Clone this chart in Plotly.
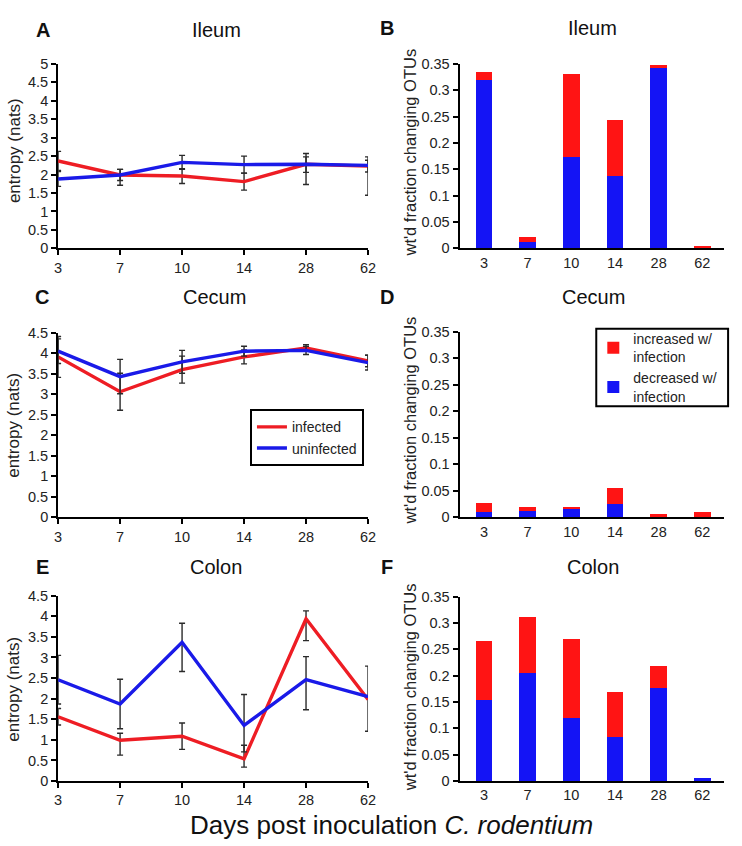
import plotly.graph_objects as go

W, H = 742, 846

days = ["3", "7", "10", "14", "28", "62"]
pos = [0, 1, 2, 3, 4, 5]

# Entropy (nats) - line panels
ileum_inf = [2.37, 1.99, 1.96, 1.81, 2.28, 2.23]
ileum_un = [1.88, 1.99, 2.33, 2.27, 2.28, 2.25]
ileum_inf_up = [0.26, 0.15, 0.20, 0.23, 0.29, 0.16]
ileum_inf_dn = [0.26, 0.15, 0.20, 0.23, 0.55, 0.79]
ileum_un_up = [0.20, 0.15, 0.19, 0.23, 0.20, 0.23]
ileum_un_dn = [0.20, 0.28, 0.19, 0.23, 0.22, 0.18]

cecum_inf = [3.91, 3.06, 3.60, 3.91, 4.13, 3.81]
cecum_un = [4.05, 3.43, 3.79, 4.05, 4.07, 3.77]
cecum_inf_err = [0.50, 0.45, 0.33, 0.17, 0.08, 0.14]
cecum_un_err = [0.30, 0.42, 0.28, 0.12, 0.10, 0.18]

colon_inf = [1.56, 0.99, 1.09, 0.54, 3.94, 1.98]
colon_un = [2.46, 1.87, 3.37, 1.35, 2.46, 2.05]
colon_inf_up = [0.20, 0.17, 0.32, 0.33, 0.19, 0.81]
colon_inf_dn = [0.20, 0.36, 0.32, 0.20, 0.53, 0.77]
colon_un_up = [0.59, 0.60, 0.46, 0.75, 0.56, 0.0]
colon_un_dn = [0.59, 0.60, 0.71, 0.64, 0.73, 0.0]

# wt'd fraction changing OTUs - stacked bars
ileum_dec = [0.319, 0.012, 0.174, 0.137, 0.343, 0.0]
ileum_inc = [0.016, 0.010, 0.157, 0.107, 0.005, 0.005]
cecum_dec = [0.009, 0.012, 0.015, 0.025, 0.001, 0.001]
cecum_inc = [0.017, 0.007, 0.004, 0.031, 0.0045, 0.009]
colon_dec = [0.154, 0.206, 0.120, 0.084, 0.177, 0.006]
colon_inc = [0.112, 0.105, 0.149, 0.086, 0.042, 0.0]

RED = "#EE1D24"
BLUE = "#1A1AE8"
BAR_RED = "#FF1414"
BAR_BLUE = "#1414F5"
ERR = "#2a2a2a"
FONT = "Liberation Sans, Arial, sans-serif"

fig = go.Figure()


def line_panel(n, inf, un, inf_up, inf_dn, un_up, un_dn, show):
    xa = "x" if n == 1 else f"x{n}"
    ya = "y" if n == 1 else f"y{n}"
    fig.add_trace(go.Scatter(
        x=pos, y=inf, mode="lines", name="infected", xaxis=xa, yaxis=ya,
        line=dict(color=RED, width=3.4), showlegend=show, legend="legend",
        error_y=dict(type="data", array=inf_up, arrayminus=inf_dn, symmetric=False,
                     color=ERR, thickness=1.4, width=3)))
    fig.add_trace(go.Scatter(
        x=pos, y=un, mode="lines", name="uninfected", xaxis=xa, yaxis=ya,
        line=dict(color=BLUE, width=3.4), showlegend=show, legend="legend",
        error_y=dict(type="data", array=un_up, arrayminus=un_dn, symmetric=False,
                     color=ERR, thickness=1.4, width=3)))


def bar_panel(n, dec, inc, show):
    xa = f"x{n}"
    ya = f"y{n}"
    fig.add_trace(go.Bar(x=pos, y=dec, name="decreased w/<br>infection", xaxis=xa, yaxis=ya,
                         marker=dict(color=BAR_BLUE, line=dict(width=0)), width=0.38,
                         showlegend=show, legend="legend2"))
    fig.add_trace(go.Bar(x=pos, y=inc, name="increased w/<br>infection", xaxis=xa, yaxis=ya,
                         marker=dict(color=BAR_RED, line=dict(width=0)), width=0.38,
                         showlegend=show, legend="legend2"))


line_panel(1, ileum_inf, ileum_un, ileum_inf_up, ileum_inf_dn, ileum_un_up, ileum_un_dn, False)
bar_panel(2, ileum_dec, ileum_inc, False)
line_panel(3, cecum_inf, cecum_un, cecum_inf_err, cecum_inf_err, cecum_un_err, cecum_un_err, True)
bar_panel(4, cecum_dec, cecum_inc, True)
line_panel(5, colon_inf, colon_un, colon_inf_up, colon_inf_dn, colon_un_up, colon_un_dn, False)
bar_panel(6, colon_dec, colon_inc, False)


def xd(a, b):
    return [a / W, b / W]


def yd(top, bottom):
    return [1 - bottom / H, 1 - top / H]


tickfont = dict(family=FONT, size=14.5, color="#222")

layout = dict(
    width=W, height=H, margin=dict(l=0, r=0, t=0, b=0),
    paper_bgcolor="white", plot_bgcolor="white",
    barmode="stack", font=dict(family=FONT, color="#111"),
)

panels = {
    1: dict(x=(55, 370), y=(57, 245), yr=[0, 5], dt=0.5, kind="line"),
    2: dict(x=(463, 732), y=(57, 245), yr=[0, 0.35], dt=0.05, kind="bar"),
    3: dict(x=(55, 370), y=(331, 519), yr=[0, 4.5], dt=0.5, kind="line"),
    4: dict(x=(463, 732), y=(330, 519), yr=[0, 0.35], dt=0.05, kind="bar"),
    5: dict(x=(55, 370), y=(599, 788), yr=[0, 4.5], dt=0.5, kind="line"),
    6: dict(x=(463, 732), y=(600, 788), yr=[0, 0.35], dt=0.05, kind="bar"),
}

for n, p in panels.items():
    xk = "xaxis" if n == 1 else f"xaxis{n}"
    yk = "yaxis" if n == 1 else f"yaxis{n}"
    ya = "y" if n == 1 else f"y{n}"
    xa = "x" if n == 1 else f"x{n}"
    line = p["kind"] == "line"
    layout[xk] = dict(
        domain=xd(*p["x"]), anchor=ya,
        range=[0, 5] if line else [-0.56, 5.5],
        tickmode="array", tickvals=pos, ticktext=days,
        showline=True, linecolor="black", linewidth=2,
        ticks="outside" if line else "", ticklen=5, tickwidth=2, tickcolor="black",
        showgrid=False, zeroline=False, tickfont=tickfont, fixedrange=True,
    )
    layout[yk] = dict(
        domain=yd(*p["y"]), anchor=xa, range=p["yr"], dtick=p["dt"],
        showline=True, linecolor="black", linewidth=2,
        ticks="outside", ticklen=5, tickwidth=2, tickcolor="black",
        showgrid=False, zeroline=False, tickfont=tickfont, fixedrange=True,
    )

layout["legend"] = dict(
    x=250 / W, y=1 - 409 / H, xanchor="left", yanchor="top",
    bordercolor="black", borderwidth=2, bgcolor="white",
    font=dict(family=FONT, size=14, color="#222"), itemwidth=30,
    tracegroupgap=2,
)
layout["legend2"] = dict(
    x=599 / W, y=1 - 321 / H, xanchor="left", yanchor="top",
    borderwidth=0, bgcolor="rgba(0,0,0,0)", traceorder="reversed",
    font=dict(family=FONT, size=14, color="#222"), itemwidth=30,
)
# box drawn round the bar legend (panel D)
layout["shapes"] = [dict(type="rect", xref="paper", yref="paper",
                         x0=602 / W, x1=736 / W, y0=1 - 406 / H, y1=1 - 327 / H,
                         line=dict(color="black", width=2), fillcolor="white", layer="above")]

ann = []
for txt, cx, cy in [("Ileum", 216, 22), ("Ileum", 598, 20), ("Cecum", 214, 295),
                    ("Cecum", 599, 295), ("Colon", 215, 570), ("Colon", 599, 570)]:
    ann.append(dict(text=txt, x=cx / W, y=1 - cy / H, xref="paper", yref="paper",
                    showarrow=False, xanchor="center", yanchor="middle",
                    font=dict(family=FONT, size=20, color="#111")))
for txt, cx, cy in [("A", 40, 22), ("B", 389, 20), ("C", 39, 295),
                    ("D", 389, 295), ("E", 39, 570), ("F", 389, 570)]:
    ann.append(dict(text=f"<b>{txt}</b>", x=cx / W, y=1 - cy / H, xref="paper", yref="paper",
                    showarrow=False, xanchor="center", yanchor="middle",
                    font=dict(family=FONT, size=20, color="#111")))
for cy in [145, 425, 694]:
    ann.append(dict(text="entropy (nats)", x=10 / W, y=1 - cy / H, xref="paper", yref="paper",
                    showarrow=False, textangle=-90, xanchor="center", yanchor="middle",
                    font=dict(family=FONT, size=17, color="#222")))
for cy in [147, 420, 692]:
    ann.append(dict(text="wt'd fraction changing OTUs", x=413 / W, y=1 - cy / H,
                    xref="paper", yref="paper", showarrow=False, textangle=-90,
                    xanchor="center", yanchor="middle",
                    font=dict(family=FONT, size=16.5, color="#222")))
ann.append(dict(text="Days post inoculation <i>C. rodentium</i>", x=394 / W, y=1 - 833 / H,
                xref="paper", yref="paper", showarrow=False, xanchor="center",
                yanchor="middle", font=dict(family=FONT, size=26, color="#111")))
layout["annotations"] = ann

fig.update_layout(**layout)
fig.write_html("out.html")
